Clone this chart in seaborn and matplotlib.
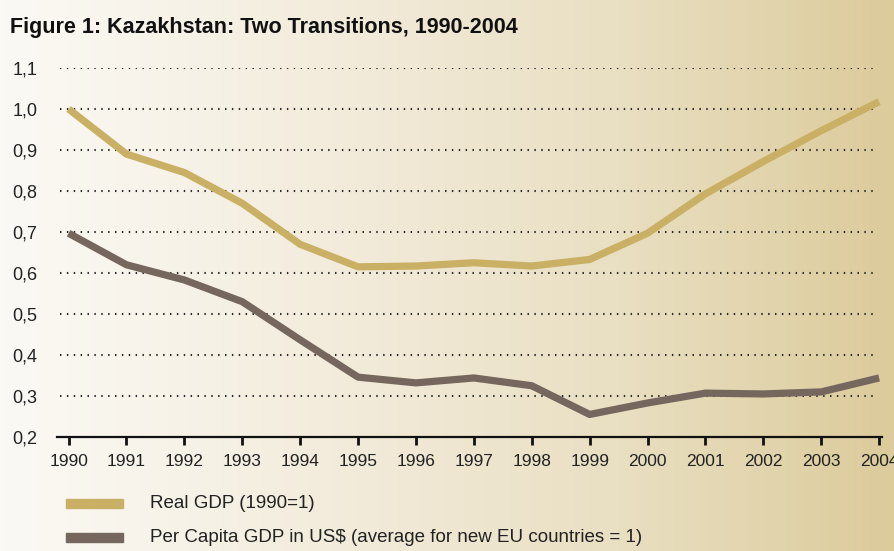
import numpy as np
import pandas as pd
import seaborn as sns
import matplotlib.pyplot as plt
from matplotlib.colors import LinearSegmentedColormap

years = list(range(1990, 2005))
real_gdp = [1.00, 0.89, 0.845, 0.77, 0.67, 0.615, 0.617, 0.625, 0.617, 0.633,
            0.697, 0.793, 0.872, 0.947, 1.018]
per_capita = [0.697, 0.620, 0.583, 0.530, 0.437, 0.346, 0.332, 0.344, 0.325, 0.255,
              0.283, 0.307, 0.305, 0.310, 0.344]
y_ticks = [0.2, 0.3, 0.4, 0.5, 0.6, 0.7, 0.8, 0.9, 1.0, 1.1]
labels = ["Real GDP (1990=1)", "Per Capita GDP in US$ (average for new EU countries = 1)"]
colors = ["#c9b065", "#75675d"]

sns.set_style("white")
plt.rcParams['font.family'] = ['Liberation Sans', 'DejaVu Sans']

df = pd.DataFrame({"year": years * 2,
                   "value": real_gdp + per_capita,
                   "series": [labels[0]] * len(years) + [labels[1]] * len(years)})

fig = plt.figure(figsize=(8.94, 5.51), dpi=100)

# gradient background
bg = fig.add_axes([0, 0, 1, 1], zorder=-1)
cmap = LinearSegmentedColormap.from_list("bg", ["#fbf9f4", "#f3ecdc", "#e9dfc2", "#dccb9b"])
grad = np.linspace(0, 1, 256).reshape(1, -1) ** 1.1
bg.imshow(grad, aspect="auto", cmap=cmap, extent=[0, 1, 0, 1])
bg.axis("off")

ax = fig.add_axes([57 / 894, 1 - 437 / 551, (882 - 57) / 894, (437 - 68) / 551])
ax.patch.set_alpha(0)

sns.lineplot(data=df, x="year", y="value", hue="series", palette=colors,
             linewidth=5.2, legend=False, ax=ax, solid_capstyle="butt")

ax.set_xlim(1989.8, 2004.05)
ax.set_ylim(0.2, 1.1)
ax.set_yticks(y_ticks)
ax.set_yticklabels([f"{v:.1f}".replace(".", ",") for v in y_ticks], fontsize=13)
ax.set_xticks(years)
ax.set_xticklabels([str(y) for y in years], fontsize=12.5)
ax.set_xlabel("")
ax.set_ylabel("")
for v in y_ticks[1:]:
    ax.plot([1989.85, 2003.9], [v, v], color="#2a2a2a", linestyle=(0, (0.7, 2.6)),
            linewidth=1.5, zorder=0)
for s in ["top", "right", "left"]:
    ax.spines[s].set_visible(False)
ax.spines["bottom"].set_linewidth(1.6)
ax.spines["bottom"].set_color("#111111")
ax.tick_params(axis="x", direction="in", length=0, pad=12, colors="#222222")
ax.tick_params(axis="y", length=0, pad=14, colors="#222222")
for y in years:
    ax.plot([y, y], [0.2, 0.18], color="#111111", lw=2, clip_on=False, solid_capstyle="butt")

fig.text(0.011, 0.95, "Figure 1: Kazakhstan: Two Transitions, 1990-2004", fontsize=15.5,
         fontweight="bold", color="#111111", va="center")

# legend
for i, (lab, c) in enumerate(zip(labels, colors)):
    yy = 1 - (503 + i * 34) / 551
    fig.patches.append(plt.Rectangle((66 / 894, yy - 4.5 / 551), 57 / 894, 9 / 551,
                                     transform=fig.transFigure, color=c, figure=fig))
    fig.text(150 / 894, yy, lab, fontsize=13.5, va="center", color="#222222")

fig.savefig("out.png", dpi=100)
